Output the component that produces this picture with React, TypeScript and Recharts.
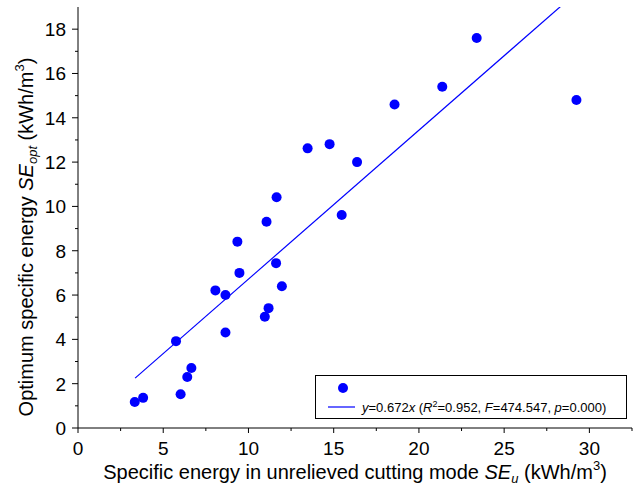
import React from 'react';
import { ScatterChart, Scatter, XAxis, YAxis } from 'recharts';

// measured values (SE_u, SE_opt)
const seU = [3.33, 3.82, 6.02, 6.41, 6.65, 5.75, 8.65, 8.65, 8.06, 9.47, 9.35, 10.96, 11.18, 11.62, 11.96, 11.06, 11.65, 13.47, 14.76, 16.37, 15.47, 18.57, 21.37, 23.39, 29.24];
const seOpt = [1.17, 1.36, 1.52, 2.3, 2.71, 3.92, 4.31, 6.0, 6.21, 7.0, 8.41, 5.02, 5.41, 7.44, 6.4, 9.31, 10.41, 12.62, 12.81, 12.0, 9.61, 14.6, 15.4, 17.6, 14.8];

const slope = 0.672;
const fitX = [3.35, 29.24];

const xTicks = [0, 2.5, 5, 7.5, 10, 12.5, 15, 17.5, 20, 22.5, 25, 27.5, 30, 32.5];
const yTicks = [0, 1, 2, 3, 4, 5, 6, 7, 8, 9, 10, 11, 12, 13, 14, 15, 16, 17, 18];

const points = seU.map((x, i) => ({ x, y: seOpt[i] }));
const fitLine = fitX.map((x) => ({ x, y: slope * x }));

const FONT = 'Liberation Sans, Arial, sans-serif';
const BLUE = '#0000ff';

function XTick({ x, y, payload }: any) {
  const major = payload.value % 5 === 0;
  return (
    <g>
      <line x1={x} y1={y} x2={x} y2={y + (major ? 5 : 3)} stroke="#000" strokeWidth={1} />
      {major && (
        <text x={x} y={y + 27} textAnchor="middle" fontSize={19} fontFamily={FONT} fill="#000">
          {payload.value}
        </text>
      )}
    </g>
  );
}

function YTick({ x, y, payload }: any) {
  const major = payload.value % 2 === 0;
  return (
    <g>
      <line x1={x} y1={y} x2={x - (major ? 6 : 3)} y2={y} stroke="#000" strokeWidth={1} />
      {major && (
        <text x={x - 12} y={y + 7} textAnchor="end" fontSize={19} fontFamily={FONT} fill="#000">
          {payload.value}
        </text>
      )}
    </g>
  );
}

export default function App() {
  return (
    <div style={{ position: 'absolute', left: 0, top: 0, width: 638, height: 492, background: '#fff' }}>
      <ScatterChart width={638} height={492} margin={{ top: 7, right: 6, bottom: 0, left: 0 }}>
        <XAxis
          type="number"
          dataKey="x"
          domain={[0, 32.5]}
          ticks={xTicks}
          interval={0}
          allowDataOverflow
          height={64}
          tickSize={0}
          tickMargin={0}
          tickLine={false}
          tick={<XTick />}
          axisLine={{ stroke: '#000', strokeWidth: 1 }}
        />
        <YAxis
          type="number"
          dataKey="y"
          domain={[0, 19]}
          ticks={yTicks}
          interval={0}
          allowDataOverflow
          width={78}
          tickSize={0}
          tickMargin={0}
          tickLine={false}
          tick={<YTick />}
          axisLine={{ stroke: '#000', strokeWidth: 1 }}
        />
        <Scatter data={fitLine} line={{ stroke: BLUE, strokeWidth: 1.2 }} shape={() => null} isAnimationActive={false} />
        <Scatter data={points} fill={BLUE} isAnimationActive={false} shape={(p: any) => <circle cx={p.cx} cy={p.cy} r={5} fill={BLUE} />} />
        <g>
          <rect x={315.5} y={375.5} width={311} height={43} fill="#fff" stroke="#000" strokeWidth={1} />
          <circle cx={343} cy={388} r={5} fill={BLUE} />
          <line x1={328} y1={407} x2={355} y2={407} stroke={BLUE} strokeWidth={1.2} />
          <text x={362} y={412} fontSize={13} fontFamily={FONT} fill="#000">
            <tspan fontStyle="italic">y</tspan>=0.672<tspan fontStyle="italic">x</tspan> (<tspan fontStyle="italic">R</tspan>
            <tspan dy={-5} fontSize={9}>2</tspan>
            <tspan dy={5}>=0.952, </tspan>
            <tspan fontStyle="italic">F</tspan>=474.547, <tspan fontStyle="italic">p</tspan>=0.000)
          </text>
        </g>
        <text x={355} y={479} textAnchor="middle" fontSize={20} fontFamily={FONT} fill="#000">
          Specific energy in unrelieved cutting mode <tspan fontStyle="italic">SE</tspan>
          <tspan dy={4} fontSize={13} fontStyle="italic">u</tspan>
          <tspan dy={-4}> (kWh/m</tspan>
          <tspan dy={-9} fontSize={13}>3</tspan>
          <tspan dy={9}>)</tspan>
        </text>
        <text
          x={0}
          y={0}
          transform="translate(33,237) rotate(-90)"
          textAnchor="middle"
          fontSize={20}
          fontFamily={FONT}
          fill="#000"
        >
          Optimum specific energy <tspan fontStyle="italic">SE</tspan>
          <tspan dy={4} fontSize={13} fontStyle="italic">opt</tspan>
          <tspan dy={-4}> (kWh/m</tspan>
          <tspan dy={-9} fontSize={13}>3</tspan>
          <tspan dy={9}>)</tspan>
        </text>
      </ScatterChart>
    </div>
  );
}
